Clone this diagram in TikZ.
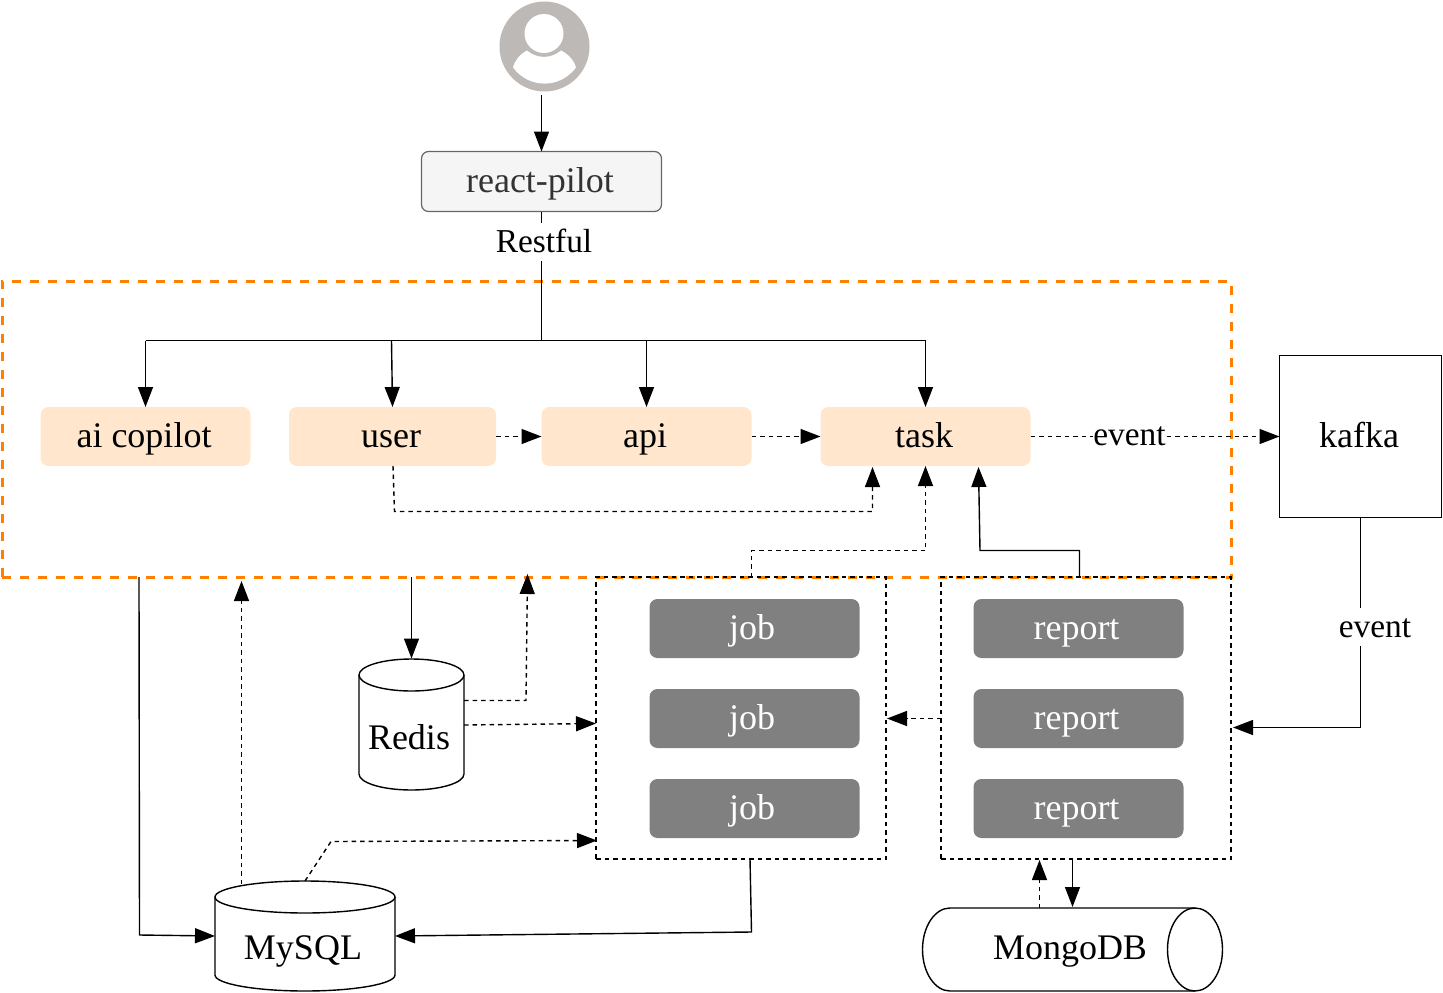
\documentclass[tikz,border=0pt]{standalone}
\usepackage{fontspec}
\setmainfont{Liberation Serif}
\usetikzlibrary{arrows.meta}
\definecolor{svc}{HTML}{FFE6CC}
\definecolor{jobgray}{HTML}{808080}
\definecolor{orangeb}{HTML}{FF8000}
\definecolor{avatar}{HTML}{BDB9B6}
\definecolor{reactb}{HTML}{666666}
\definecolor{reactf}{HTML}{F5F5F5}
\definecolor{reactt}{HTML}{333333}
\newcommand{\nudge}{\hspace*{-3pt}}
\tikzset{
  conn/.style={draw=black,line width=1.4pt,-{Triangle[length=20pt,width=15pt]}},
  plainconn/.style={draw=black,line width=1.4pt},
  dconn/.style={conn,dash pattern=on 4.5pt off 4pt},
  txt/.style={font=\fontsize{36}{40}\selectfont,text height=28.5pt,text depth=6pt,inner sep=0pt,outer sep=0pt},
  svcbox/.style={txt,fill=svc,rounded corners=8pt,minimum height=59pt},
  jobbox/.style={txt,fill=jobgray,text=white,rounded corners=8pt,minimum width=210pt,minimum height=59pt},
  group/.style={draw=black,line width=1.2pt,dash pattern=on 4.5pt off 4pt,inner sep=0pt,outer sep=0pt,minimum width=290pt,minimum height=282pt},
  edgelabel/.style={font=\fontsize{33.4}{38}\selectfont,fill=white,text height=29.5pt,text depth=8.5pt,inner xsep=0.5pt,inner ysep=0pt,outer sep=0pt},
  dbbox/.style={inner sep=0pt,outer sep=0pt},
  cyl/.style={draw=black,line width=1.4pt,fill=white}
}
\begin{document}
\begin{tikzpicture}[x=1pt,y=-1pt]
\useasboundingbox (0,0) rectangle (1443,993);

% orange frame
\node[draw=orangeb,line width=3pt,dash pattern=on 9pt off 9pt,inner sep=0pt,outer sep=0pt,minimum width=1229.5pt,minimum height=296pt] (frame) at (616.75,429) {};

% avatar
\node[circle,fill=avatar,minimum size=90pt,inner sep=0pt,outer sep=0pt] (person) at (544.5,46.5) {};
\fill[white] (544,33.5) circle[radius=19.5pt];
\fill[white] (513,67.5) .. controls (515,60) and (520,54) .. (527,50.5)
  .. controls (537,59) and (551,59) .. (561,50.5)
  .. controls (568,54) and (574,60) .. (576,67.5)
  .. controls (560,89) and (529,89) .. (513,67.5) -- cycle;

% nodes
\node[txt,draw=reactb,fill=reactf,text=reactt,rounded corners=7pt,minimum width=240pt,minimum height=60pt,line width=1.2pt] (react) at (541.5,181.5) {\nudge react-pilot};

\node[svcbox,minimum width=210pt] (copilot) at (145.5,436.5) {\nudge ai copilot};
\node[svcbox,minimum width=207pt] (user) at (392.5,436.5) {\nudge user};
\node[svcbox,minimum width=210pt] (api) at (646.5,436.5) {\nudge api};
\node[svcbox,minimum width=210pt] (task) at (925.5,436.5) {\nudge task};
\node[txt,draw=black,line width=1.4pt,minimum width=162pt,minimum height=162pt] (kafka) at (1360.5,436.5) {};
\node[txt] at (1359,436) {kafka};

\node[group] (jobs) at (741,718) {};
\node[group] (reports) at (1086,718) {};
\node[jobbox] (job1) at (754.5,628.5) {};
\node[jobbox] (job2) at (754.5,718.5) {};
\node[jobbox] (job3) at (754.5,808.5) {};
\node[jobbox] (rep1) at (1078.5,628.5) {};
\node[jobbox] (rep2) at (1078.5,718.5) {};
\node[jobbox] (rep3) at (1078.5,808.5) {};
\foreach \y in {628,718,808} {
  \node[txt,text=white] at (752,\y) {job};
  \node[txt,text=white] at (1076.5,\y) {report};
}

% cylinders
\node[dbbox,minimum width=105pt,minimum height=132pt] (redis) at (411.5,724.5) {};
\draw[cyl] (359,675) arc[start angle=180,end angle=0,x radius=52.5pt,y radius=16pt]
  -- (464,774) arc[start angle=0,end angle=-180,x radius=52.5pt,y radius=16pt] -- cycle;
\draw[cyl,fill=none] (359,675) arc[start angle=180,end angle=360,x radius=52.5pt,y radius=16pt];
\node[txt] at (409,738) {Redis};

\node[dbbox,minimum width=180pt,minimum height=110pt] (mysql) at (305,936) {};
\draw[cyl] (215,897) arc[start angle=180,end angle=0,x radius=90pt,y radius=16pt]
  -- (395,975) arc[start angle=0,end angle=-180,x radius=90pt,y radius=16pt] -- cycle;
\draw[cyl,fill=none] (215,897) arc[start angle=180,end angle=360,x radius=90pt,y radius=16pt];
\node[txt] at (303,948) {MySQL};

\node[dbbox,minimum width=299pt,minimum height=83pt] (mongo) at (1072.5,949.5) {};
\draw[cyl] (950,908) -- (1195,908) arc[start angle=90,end angle=-90,x radius=27.5pt,y radius=41.5pt]
  -- (950,991) arc[start angle=270,end angle=90,x radius=27.5pt,y radius=41.5pt] -- cycle;
\draw[cyl,fill=none] (1195,908) arc[start angle=90,end angle=270,x radius=27.5pt,y radius=41.5pt];
\node[txt] at (1070,948) {MongoDB};

% named connector ends
\coordinate (rtop) at (541.5,95);
\coordinate (bus) at (541.5,340.5);
\coordinate (buscop) at (145.5,340.5);
\coordinate (bususer) at (391.5,340.5);
\coordinate (busapi) at (646.5,340.5);
\coordinate (bustask) at (925.5,340.5);
\coordinate (userdown) at (393,466);
\coordinate (userbend) at (394.5,511.5);
\coordinate (taskin1b) at (872.5,511.5);
\coordinate (taskin1) at (872.5,467);
\coordinate (jobsout) at (751.5,577);
\coordinate (jobsb1) at (751.5,550.5);
\coordinate (jobsb2) at (925.5,550.5);
\coordinate (repout) at (1079.5,577);
\coordinate (repb1) at (1079.5,550.5);
\coordinate (repb2) at (980,550.5);
\coordinate (taskin3) at (978.5,467);
\coordinate (kafb) at (1360.5,727.5);
\coordinate (repin) at (1233,727.5);
\coordinate (frdown) at (411.5,577);
\coordinate (redisout1) at (464,700.5);
\coordinate (redisb) at (526,700.5);
\coordinate (redisup) at (527.5,574);
\coordinate (redisout2) at (464,725);
\coordinate (jobsin1) at (596,723.5);
\coordinate (repleft) at (941,718.5);
\coordinate (jobsright) at (887,718.5);
\coordinate (frout) at (139,577);
\coordinate (frb) at (139.5,935);
\coordinate (mysqlw) at (215,936);
\coordinate (mysqlup) at (241.5,884);
\coordinate (frup) at (241.5,581);
\coordinate (mysqltop) at (305,881);
\coordinate (mysqlb) at (331,841.5);
\coordinate (jobsin2) at (597,840.5);
\coordinate (jobsdown) at (750,859);
\coordinate (jobsdb) at (751.5,932);
\coordinate (mysqle) at (395,936);
\coordinate (mongoup) at (1039.5,908);
\coordinate (repbot1) at (1039.5,860);
\coordinate (repbot2) at (1072.5,859);
\coordinate (mongotop) at (1072.5,907);

% connectors
\draw[conn] (rtop) -- (react.north);
\draw[plainconn] (react.south) -- (bus);
\node[edgelabel] (restful) at (544,241.5) {Restful};
\draw[plainconn] (buscop) -- (bustask);
\draw[conn] (buscop) -- (copilot.north);
\draw[conn] (bususer) -- (user.north);
\draw[conn] (bustask) -- (task.north);
\draw[conn] (busapi) -- (api.north);
\draw[dconn] (user.east) -- (api.west);
\draw[dconn] (api.east) -- (task.west);
\draw[dconn] (task.east) -- (kafka.west);
\node[edgelabel] (ev1) at (1129.5,435) {event};
\draw[dconn] (userdown) -- (userbend) -- (taskin1b) -- (taskin1);
\draw[dconn] (jobsout) -- (jobsb1) -- (jobsb2) -- (task.south);
\draw[conn] (repout) -- (repb1) -- (repb2) -- (taskin3);
\draw[conn] (kafka.south) -- (kafb) -- (repin);
\node[edgelabel] (ev2) at (1375,626.5) {event};
\draw[conn] (frdown) -- (redis.north);
\draw[dconn] (redisout1) -- (redisb) -- (redisup);
\draw[dconn] (redisout2) -- (jobsin1);
\draw[dconn] (repleft) -- (jobsright);
\draw[conn] (frout) -- (frb) -- (mysqlw);
\draw[dconn] (mysqlup) -- (frup);
\draw[dconn] (mysqltop) -- (mysqlb) -- (jobsin2);
\draw[conn] (jobsdown) -- (jobsdb) -- (mysqle);
\draw[dconn] (mongoup) -- (repbot1);
\draw[conn] (repbot2) -- (mongotop);
\end{tikzpicture}
\end{document}
